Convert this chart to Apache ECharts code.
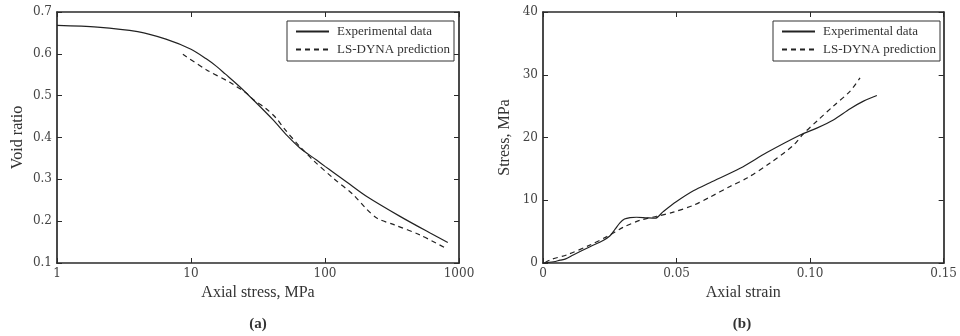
<!DOCTYPE html>
<html>
<head>
<meta charset="utf-8">
<script src="https://cdn.jsdelivr.net/npm/echarts@6/dist/echarts.min.js"></script>
<style>html,body{margin:0;padding:0;background:#fff}#c{width:960px;height:336px}</style>
</head>
<body>
<div id="c"></div>
<script>
// ---- Data ----
const seriesNames = ['Experimental data', 'LS-DYNA prediction'];

// Panel (a): axial stress (MPa, log) vs void ratio
const stressTicks = [1, 10, 100, 1000];
const voidTicks = [0.1, 0.2, 0.3, 0.4, 0.5, 0.6, 0.7];
const expA_stress = [1, 2, 4, 6.5, 10, 13, 15.5, 18, 23, 30, 41, 52, 65, 86.5, 100, 115, 146, 205, 363, 614, 825];
const expA_void   = [0.668, 0.664, 0.653, 0.635, 0.611, 0.588, 0.570, 0.552, 0.522, 0.486, 0.442, 0.405, 0.375, 0.346, 0.331, 0.317, 0.293, 0.259, 0.2115, 0.171, 0.149];
const lsA_stress  = [8.7, 13, 19.5, 21.8, 26, 29.1, 36, 43, 50, 65, 82, 115, 163, 200, 245, 330, 512, 800];
const lsA_void    = [0.599, 0.562, 0.532, 0.522, 0.506, 0.491, 0.470, 0.447, 0.420, 0.378, 0.345, 0.303, 0.263, 0.232, 0.207, 0.191, 0.167, 0.135];

// Panel (b): axial strain vs stress (MPa)
const strainTicks = [0, 0.05, 0.10, 0.15];
const stressBTicks = [0, 10, 20, 30, 40];
const expB_strain = [0, 0.004, 0.0064, 0.0085, 0.0113, 0.0176, 0.0225, 0.0250, 0.0270, 0.0288, 0.0305, 0.0326, 0.035, 0.0388, 0.042, 0.045, 0.05, 0.0563, 0.0625, 0.0738, 0.0838, 0.0963, 0.1025, 0.1087, 0.115, 0.12, 0.125];
const expB_stress = [0, 0.2, 0.45, 0.65, 1.28, 2.6, 3.6, 4.3, 5.4, 6.4, 7.0, 7.24, 7.29, 7.2, 7.14, 8.19, 9.79, 11.5, 12.8, 15.1, 17.6, 20.4, 21.5, 22.8, 24.6, 25.8, 26.7];
const lsB_strain  = [0.0007, 0.003, 0.0089, 0.0176, 0.0239, 0.0301, 0.0363, 0.0426, 0.0488, 0.0563, 0.0625, 0.0700, 0.0762, 0.0849, 0.0936, 0.0975, 0.1025, 0.1087, 0.115, 0.1187];
const lsB_stress  = [0.05, 0.55, 1.3, 2.87, 4.2, 5.7, 6.8, 7.45, 8.1, 9.2, 10.5, 12.2, 13.5, 15.9, 18.7, 20.6, 22.6, 25.0, 27.4, 29.5];

const zip = (a, b) => a.map((v, i) => [v, b[i]]);

const FONT = 'Liberation Serif';
const TICKFONT = 'DejaVu Serif';
const AX = '#2a2a2a';
const lineCol = '#222';

function label(extra) {
  return Object.assign({ color: '#444', fontFamily: TICKFONT, fontSize: 12, margin: 5 }, extra);
}
function axisBase(extra) {
  return Object.assign({
    axisLine: { show: true, onZero: false, lineStyle: { color: AX, width: 1.7 } },
    axisTick: { show: true, inside: true, length: 5, lineStyle: { color: AX, width: 1 } },
    splitLine: { show: false },
    minorTick: { show: false },
    axisLabel: label({}),
    nameTextStyle: { color: '#333', fontFamily: FONT, fontSize: 16 }
  }, extra);
}
function legendAt(left) {
  return { left: left, top: 21, orient: 'vertical', data: seriesNames, itemWidth: 33, itemHeight: 12, itemGap: 5,
    padding: [4, 4, 5, 8], borderColor: '#333', borderWidth: 1, selectedMode: false,
    itemStyle: { opacity: 0 },
    textStyle: { fontFamily: FONT, fontSize: 13, color: '#333', padding: [0, 0, 0, 3] } };
}

const chart = echarts.init(document.getElementById('c'), null, { renderer: 'canvas' });
chart.setOption({
  animation: false,
  backgroundColor: '#fff',
  grid: [
    { left: 57, top: 12, width: 402, height: 251 },
    { left: 543, top: 12, width: 401, height: 251 }
  ],
  xAxis: [
    axisBase({ gridIndex: 0, type: 'log', logBase: 10, min: stressTicks[0], max: stressTicks[stressTicks.length - 1],
      position: 'bottom', name: 'Axial stress, MPa', nameLocation: 'middle', nameGap: 22,
      axisLabel: label({ formatter: v => String(Math.round(v)) }) }),
    axisBase({ gridIndex: 0, type: 'log', logBase: 10, min: stressTicks[0], max: stressTicks[stressTicks.length - 1],
      position: 'top', axisLabel: { show: false } }),
    axisBase({ gridIndex: 1, type: 'value', min: strainTicks[0], max: strainTicks[strainTicks.length - 1], interval: 0.05,
      position: 'bottom', name: 'Axial strain', nameLocation: 'middle', nameGap: 22,
      axisLabel: label({ formatter: v => v === 0 ? '0' : v.toFixed(2) }) }),
    axisBase({ gridIndex: 1, type: 'value', min: strainTicks[0], max: strainTicks[strainTicks.length - 1], interval: 0.05,
      position: 'top', axisLabel: { show: false } })
  ],
  yAxis: [
    axisBase({ gridIndex: 0, type: 'value', min: voidTicks[0], max: voidTicks[voidTicks.length - 1], interval: 0.1,
      position: 'left', name: 'Void ratio', nameLocation: 'middle', nameGap: 31, nameRotate: 90,
      axisLabel: label({ formatter: v => v.toFixed(1) }) }),
    axisBase({ gridIndex: 0, type: 'value', min: voidTicks[0], max: voidTicks[voidTicks.length - 1], interval: 0.1,
      position: 'right', axisLabel: { show: false } }),
    axisBase({ gridIndex: 1, type: 'value', min: stressBTicks[0], max: stressBTicks[stressBTicks.length - 1], interval: 10,
      position: 'left', name: 'Stress, MPa', nameLocation: 'middle', nameGap: 30, nameRotate: 90,
      axisLabel: label({}) }),
    axisBase({ gridIndex: 1, type: 'value', min: stressBTicks[0], max: stressBTicks[stressBTicks.length - 1], interval: 10,
      position: 'right', axisLabel: { show: false } })
  ],
  legend: [legendAt(287), legendAt(773)],
  graphic: [
    { type: 'text', x: 258, y: 324, style: { text: '(a)', font: 'bold 15px "Liberation Serif"', fill: '#333', textAlign: 'center', textVerticalAlign: 'middle' } },
    { type: 'text', x: 742, y: 324, style: { text: '(b)', font: 'bold 15px "Liberation Serif"', fill: '#333', textAlign: 'center', textVerticalAlign: 'middle' } }
  ],
  series: [
    { name: seriesNames[0], type: 'line', xAxisIndex: 0, yAxisIndex: 0, data: zip(expA_stress, expA_void), smooth: 0.3,
      symbol: 'none', lineStyle: { color: lineCol, width: 1.2, type: 'solid' }, itemStyle: { color: lineCol } },
    { name: seriesNames[1], type: 'line', xAxisIndex: 0, yAxisIndex: 0, data: zip(lsA_stress, lsA_void), smooth: 0.3,
      symbol: 'none', lineStyle: { color: lineCol, width: 1.2, type: [5, 4] }, itemStyle: { color: lineCol } },
    { name: seriesNames[0], type: 'line', xAxisIndex: 2, yAxisIndex: 2, data: zip(expB_strain, expB_stress), smooth: 0.3,
      symbol: 'none', lineStyle: { color: lineCol, width: 1.2, type: 'solid' }, itemStyle: { color: lineCol } },
    { name: seriesNames[1], type: 'line', xAxisIndex: 2, yAxisIndex: 2, data: zip(lsB_strain, lsB_stress), smooth: 0.3,
      symbol: 'none', lineStyle: { color: lineCol, width: 1.2, type: [5, 4] }, itemStyle: { color: lineCol } }
  ]
});
</script>
</body>
</html>
